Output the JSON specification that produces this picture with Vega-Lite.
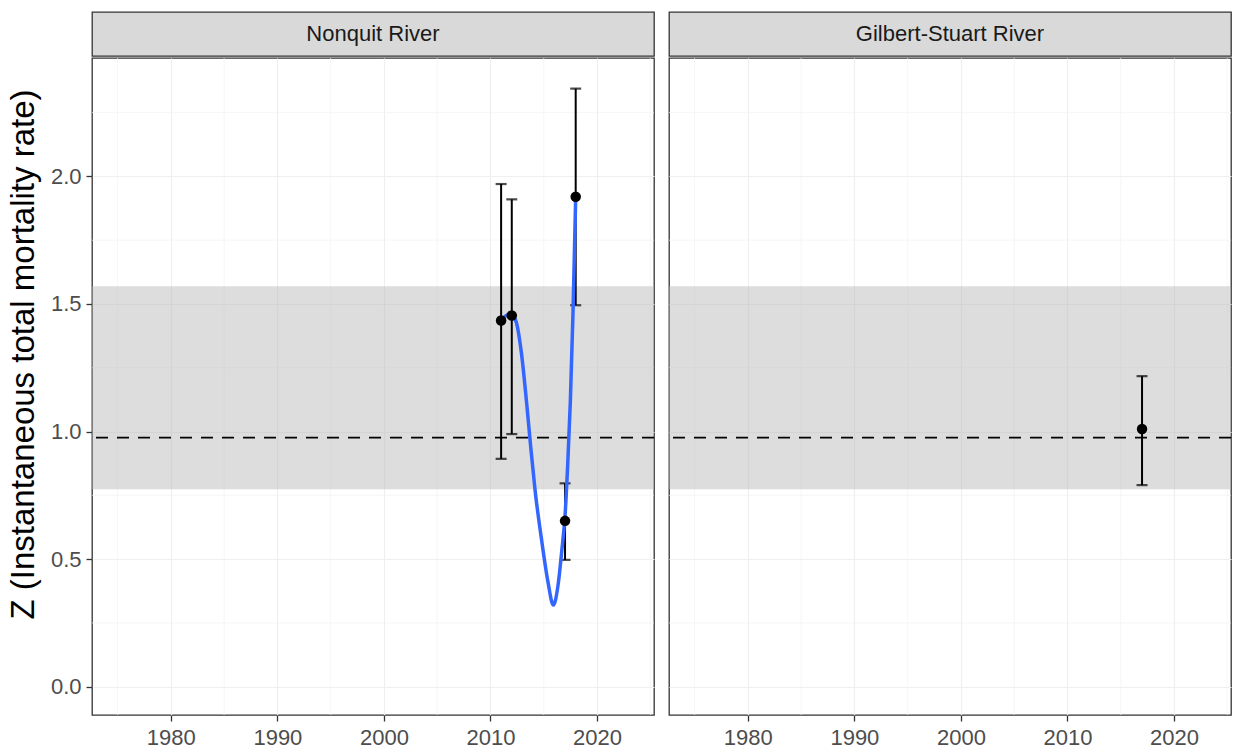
{
  "$schema": "https://vega.github.io/schema/vega-lite/v6.json",
  "padding": {"left": 6, "top": 11, "right": 1, "bottom": 4},
  "config": {
    "font": "Liberation Sans",
    "view": {"stroke": "#333333", "strokeWidth": 1.3},
    "axis": {
      "labelFont": "Liberation Sans",
      "labelFontSize": 22,
      "labelColor": "#4d4d4d",
      "tickColor": "#333333",
      "tickSize": 6,
      "tickWidth": 1.3,
      "gridColor": "#efefef",
      "gridWidth": 1.2,
      "domain": false,
      "labelFlush": false
    }
  },
  "datasets": {
    "pts": [
      {"panel": "Nonquit River", "year": 2011, "z": 1.435, "lo": 0.893, "hi": 1.97},
      {"panel": "Nonquit River", "year": 2012, "z": 1.455, "lo": 0.99, "hi": 1.91},
      {"panel": "Nonquit River", "year": 2017, "z": 0.65, "lo": 0.497, "hi": 0.797},
      {"panel": "Nonquit River", "year": 2018, "z": 1.92, "lo": 1.495, "hi": 2.344},
      {"panel": "Gilbert-Stuart River", "year": 2017, "z": 1.01, "lo": 0.79, "hi": 1.217}
    ],
    "curve": [
      {"year": 2011.0, "z": 1.435},
      {"year": 2011.4, "z": 1.452},
      {"year": 2011.8, "z": 1.461},
      {"year": 2012.1, "z": 1.455},
      {"year": 2012.45, "z": 1.425},
      {"year": 2012.9, "z": 1.31},
      {"year": 2013.4, "z": 1.11},
      {"year": 2013.8, "z": 0.93},
      {"year": 2014.2, "z": 0.765},
      {"year": 2014.8, "z": 0.575},
      {"year": 2015.4, "z": 0.41},
      {"year": 2015.9, "z": 0.32},
      {"year": 2016.35, "z": 0.4},
      {"year": 2016.7, "z": 0.535},
      {"year": 2017.0, "z": 0.67},
      {"year": 2017.25, "z": 0.87},
      {"year": 2017.5, "z": 1.12},
      {"year": 2017.75, "z": 1.47},
      {"year": 2018.0, "z": 1.92}
    ],
    "band": [{"lo": 0.774, "hi": 1.569, "ref": 0.976}],
    "minorx": [{"x": 1975}, {"x": 1985}, {"x": 1995}, {"x": 2005}, {"x": 2015}, {"x": 2025}],
    "minory": [{"y": 0.25}, {"y": 0.75}, {"y": 1.25}, {"y": 1.75}, {"y": 2.25}]
  },
  "spacing": 11,
  "hconcat": [
    {
      "spacing": 0,
      "vconcat": [
        {
          "width": 562,
          "height": 44,
          "view": {"fill": "#d9d9d9", "stroke": "#333333", "strokeWidth": 1.3},
          "data": {"values": [{"label": "Nonquit River"}]},
          "mark": {"type": "text", "fontSize": 22, "color": "#1a1a1a", "font": "Liberation Sans"},
          "encoding": {"text": {"field": "label", "type": "nominal"}}
        },
        {
          "width": 562,
          "height": 657,
          "view": {"fill": "white", "stroke": "#333333", "strokeWidth": 1.3},
          "layer": [
            {
              "data": {"name": "minorx"},
              "mark": {"type": "rule", "color": "#f2f2f2", "strokeWidth": 0.7},
              "encoding": {"x": {"field": "x", "type": "quantitative", "scale": {"domain": [1972.6, 2025.35], "nice": false, "zero": false}, "axis": {"values": [1980, 1990, 2000, 2010, 2020], "format": "d", "title": null, "labelPadding": 6}}}
            },
            {
              "data": {"name": "minory"},
              "mark": {"type": "rule", "color": "#f2f2f2", "strokeWidth": 0.7},
              "encoding": {"y": {"field": "y", "type": "quantitative", "scale": {"domain": [-0.111, 2.464], "nice": false, "zero": false}, "axis": {"values": [0, 0.5, 1, 1.5, 2], "format": ".1f", "title": "Z (Instantaneous total mortality rate)", "titleFontSize": 33, "titleFontWeight": "normal", "titleColor": "#000000", "titleFont": "Liberation Sans", "titlePadding": 10, "titleY": 296, "labelPadding": 5}}}
            },
            {
              "data": {"name": "band"},
              "mark": {"type": "rect", "color": "#b3b3b3", "opacity": 0.45},
              "encoding": {"y": {"field": "lo", "type": "quantitative"}, "y2": {"field": "hi"}}
            },
            {
              "data": {"name": "band"},
              "mark": {"type": "rule", "color": "#000000", "strokeWidth": 1.8, "strokeDash": [12, 9]},
              "encoding": {"y": {"field": "ref", "type": "quantitative"}}
            },
            {
              "data": {"name": "pts"},
              "transform": [{"filter": "datum.panel == 'Nonquit River'"}],
              "mark": {"type": "rule", "color": "#000000", "strokeWidth": 2},
              "encoding": {"x": {"field": "year", "type": "quantitative"}, "y": {"field": "lo", "type": "quantitative"}, "y2": {"field": "hi"}}
            },
            {
              "data": {"name": "pts"},
              "transform": [{"filter": "datum.panel == 'Nonquit River'"}],
              "mark": {"type": "tick", "orient": "horizontal", "color": "#000000", "size": 11, "thickness": 2.2},
              "encoding": {"x": {"field": "year", "type": "quantitative"}, "y": {"field": "lo", "type": "quantitative"}}
            },
            {
              "data": {"name": "pts"},
              "transform": [{"filter": "datum.panel == 'Nonquit River'"}],
              "mark": {"type": "tick", "orient": "horizontal", "color": "#000000", "size": 11, "thickness": 2.2},
              "encoding": {"x": {"field": "year", "type": "quantitative"}, "y": {"field": "hi", "type": "quantitative"}}
            },
            {
              "data": {"name": "curve"},
              "mark": {"type": "line", "color": "#3366FF", "strokeWidth": 3.5, "interpolate": "monotone"},
              "encoding": {"x": {"field": "year", "type": "quantitative"}, "y": {"field": "z", "type": "quantitative"}}
            },
            {
              "data": {"name": "pts"},
              "transform": [{"filter": "datum.panel == 'Nonquit River'"}],
              "mark": {"type": "circle", "color": "#000000", "opacity": 1, "size": 110},
              "encoding": {"x": {"field": "year", "type": "quantitative"}, "y": {"field": "z", "type": "quantitative"}}
            }
          ]
        }
      ]
    },
    {
      "spacing": 0,
      "vconcat": [
        {
          "width": 562,
          "height": 44,
          "view": {"fill": "#d9d9d9", "stroke": "#333333", "strokeWidth": 1.3},
          "data": {"values": [{"label": "Gilbert-Stuart River"}]},
          "mark": {"type": "text", "fontSize": 22, "color": "#1a1a1a", "font": "Liberation Sans"},
          "encoding": {"text": {"field": "label", "type": "nominal"}}
        },
        {
          "width": 562,
          "height": 657,
          "view": {"fill": "white", "stroke": "#333333", "strokeWidth": 1.3},
          "layer": [
            {
              "data": {"name": "minorx"},
              "mark": {"type": "rule", "color": "#f2f2f2", "strokeWidth": 0.7},
              "encoding": {"x": {"field": "x", "type": "quantitative", "scale": {"domain": [1972.6, 2025.35], "nice": false, "zero": false}, "axis": {"values": [1980, 1990, 2000, 2010, 2020], "format": "d", "title": null, "labelPadding": 6}}}
            },
            {
              "data": {"name": "minory"},
              "mark": {"type": "rule", "color": "#f2f2f2", "strokeWidth": 0.7},
              "encoding": {"y": {"field": "y", "type": "quantitative", "scale": {"domain": [-0.111, 2.464], "nice": false, "zero": false}, "axis": {"values": [0, 0.5, 1, 1.5, 2], "labels": false, "ticks": false, "title": null}}}
            },
            {
              "data": {"name": "band"},
              "mark": {"type": "rect", "color": "#b3b3b3", "opacity": 0.45},
              "encoding": {"y": {"field": "lo", "type": "quantitative"}, "y2": {"field": "hi"}}
            },
            {
              "data": {"name": "band"},
              "mark": {"type": "rule", "color": "#000000", "strokeWidth": 1.8, "strokeDash": [12, 9]},
              "encoding": {"y": {"field": "ref", "type": "quantitative"}}
            },
            {
              "data": {"name": "pts"},
              "transform": [{"filter": "datum.panel == 'Gilbert-Stuart River'"}],
              "mark": {"type": "rule", "color": "#000000", "strokeWidth": 2},
              "encoding": {"x": {"field": "year", "type": "quantitative"}, "y": {"field": "lo", "type": "quantitative"}, "y2": {"field": "hi"}}
            },
            {
              "data": {"name": "pts"},
              "transform": [{"filter": "datum.panel == 'Gilbert-Stuart River'"}],
              "mark": {"type": "tick", "orient": "horizontal", "color": "#000000", "size": 11, "thickness": 2.2},
              "encoding": {"x": {"field": "year", "type": "quantitative"}, "y": {"field": "lo", "type": "quantitative"}}
            },
            {
              "data": {"name": "pts"},
              "transform": [{"filter": "datum.panel == 'Gilbert-Stuart River'"}],
              "mark": {"type": "tick", "orient": "horizontal", "color": "#000000", "size": 11, "thickness": 2.2},
              "encoding": {"x": {"field": "year", "type": "quantitative"}, "y": {"field": "hi", "type": "quantitative"}}
            },
            {
              "data": {"name": "pts"},
              "transform": [{"filter": "datum.panel == 'Gilbert-Stuart River'"}],
              "mark": {"type": "circle", "color": "#000000", "opacity": 1, "size": 110},
              "encoding": {"x": {"field": "year", "type": "quantitative"}, "y": {"field": "z", "type": "quantitative"}}
            }
          ]
        }
      ]
    }
  ]
}
